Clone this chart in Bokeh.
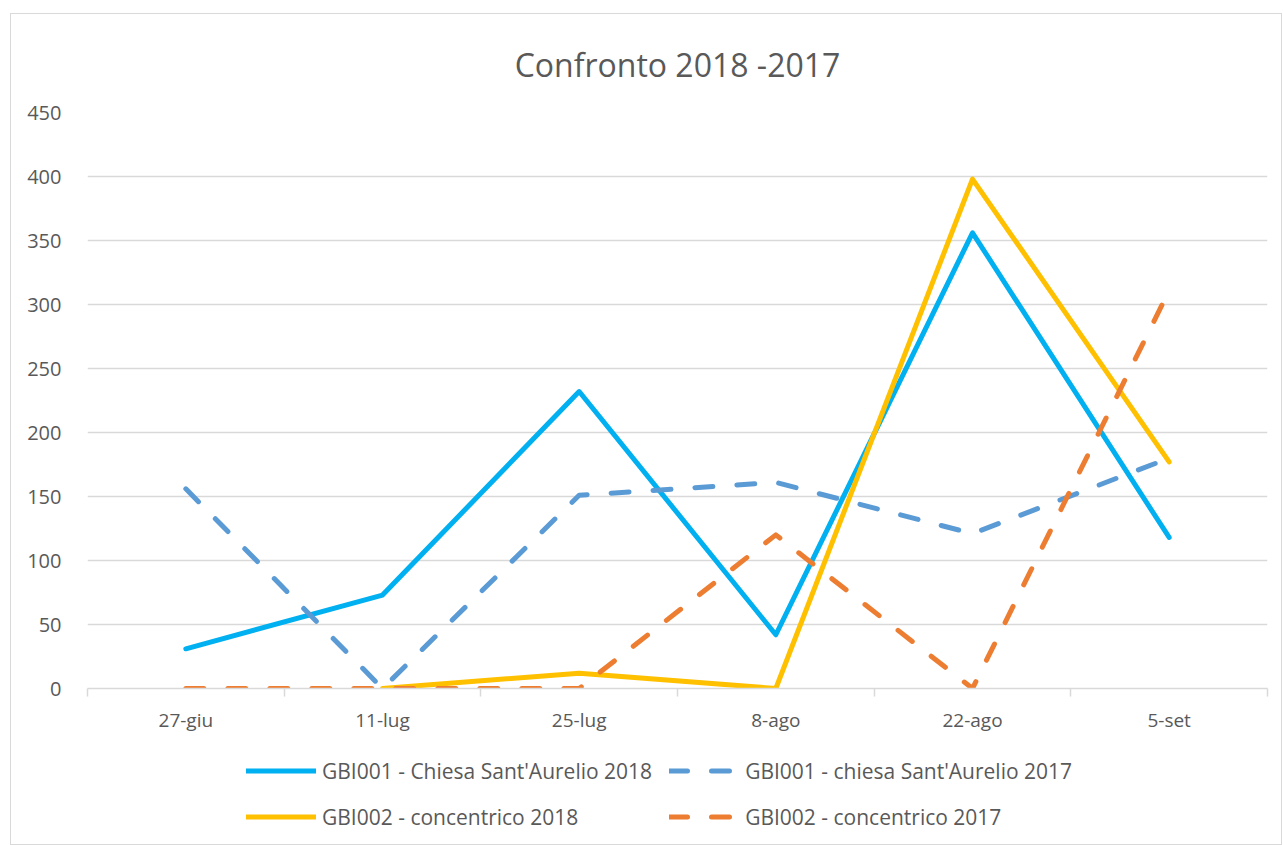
from bokeh.plotting import figure
from bokeh.models import FixedTicker, Legend, LegendItem, Range1d
from bokeh.layouts import column
from bokeh.embed import file_html
from bokeh.resources import INLINE

categories = ["27-giu", "11-lug", "25-lug", "8-ago", "22-ago", "5-set"]
s1_name = "GBI001 - Chiesa Sant'Aurelio 2018"
s1 = [31, 73, 232, 42, 356, 118]
s2_name = "GBI001 - chiesa Sant'Aurelio 2017"
s2 = [156, 0, 151, 161, 121, 180]
s3_name = "GBI002 - concentrico 2018"
s3 = [float("nan"), 0, 12, 0, 398, 177]
s4_name = "GBI002 - concentrico 2017"
s4 = [0, 0, 0, 120, 0, 311]
y_ticks = [0, 50, 100, 150, 200, 250, 300, 350, 400, 450]

FONT = "Open Sans"
TXT = "#595959"
GRID = "#D9D9D9"
COLORS = ["#00B0F0", "#5B9BD5", "#FFC000", "#ED7D31"]
DASHES = ["solid", "18 24", "solid", "18 24"]
NAMES = [s1_name, s2_name, s3_name, s4_name]
SERIES = [s1, s2, s3, s4]
LW = 5

xs = [i + 0.5 for i in range(len(categories))]

p = figure(width=1270, height=726, output_backend="svg", toolbar_location=None,
           x_range=Range1d(0, len(categories)), y_range=Range1d(0, 450),
           min_border_left=76, min_border_right=14, min_border_top=97, min_border_bottom=52)
p.outline_line_color = None
p.background_fill_color = "white"

p.title.text = "Confronto 2018 -2017"
p.title.align = "center"
p.title.text_font = FONT
p.title.text_font_size = "32px"
p.title.text_font_style = "normal"
p.title.text_color = TXT
p.title.standoff = 53

p.xaxis.ticker = FixedTicker(ticks=xs, minor_ticks=list(range(len(categories) + 1)))
p.xaxis.major_label_overrides = {x: c for x, c in zip(xs, categories)}
p.xaxis.major_tick_line_color = None
p.xaxis.major_tick_out = 0
p.xaxis.minor_tick_line_color = GRID
p.xaxis.minor_tick_line_width = 1.5
p.xaxis.minor_tick_out = 8
p.xaxis.minor_tick_in = 0
p.xaxis.axis_line_color = GRID
p.xaxis.axis_line_width = 1.5
p.xaxis.major_label_text_font = FONT
p.xaxis.major_label_text_font_size = "19px"
p.xaxis.major_label_text_color = TXT
p.xaxis.major_label_standoff = 10

p.yaxis.ticker = FixedTicker(ticks=y_ticks)
p.yaxis.axis_line_color = None
p.yaxis.major_tick_line_color = None
p.yaxis.minor_tick_line_color = None
p.yaxis.major_tick_out = 0
p.yaxis.major_label_text_font = FONT
p.yaxis.major_label_text_font_size = "20px"
p.yaxis.major_label_text_color = TXT
p.yaxis.major_label_standoff = 26

p.xgrid.grid_line_color = None
p.ygrid.grid_line_color = GRID
p.ygrid.grid_line_width = 1.5

for ys, c, d in zip(SERIES, COLORS, DASHES):
    p.line(xs, ys, line_color=c, line_width=LW, line_dash=d, line_join="round", line_cap="round")

# legend strip below the chart (its lines carry the same data, kept outside its visible range)
p2 = figure(width=1270, height=104, output_backend="svg", toolbar_location=None,
            x_range=Range1d(100, 101), y_range=Range1d(1000, 1001),
            min_border_left=76, min_border_right=14, min_border_top=0, min_border_bottom=0,
            x_axis_location=None, y_axis_location=None)
p2.outline_line_color = None
p2.xgrid.visible = False
p2.ygrid.visible = False
items = []
for name, ys, c, d in zip(NAMES, SERIES, COLORS, DASHES):
    r = p2.line(xs, ys, line_color=c, line_width=LW, line_dash=d, line_cap="round")
    items.append(LegendItem(label=name, renderers=[r]))
legend = Legend(items=items, location=(159, 13), orientation="horizontal", ncols=2,
                glyph_width=70, glyph_height=29, label_height=29, label_standoff=6,
                spacing=17, padding=0, margin=0,
                label_text_font=FONT, label_text_font_size="21px", label_text_color=TXT,
                background_fill_alpha=0, border_line_color=None)
p2.add_layout(legend, "center")

layout = column(p, p2, spacing=0,
                styles={"border": "1px solid #D9D9D9", "margin-left": "10px", "margin-top": "13px"})

open("out.html", "w").write(file_html(layout, INLINE))
